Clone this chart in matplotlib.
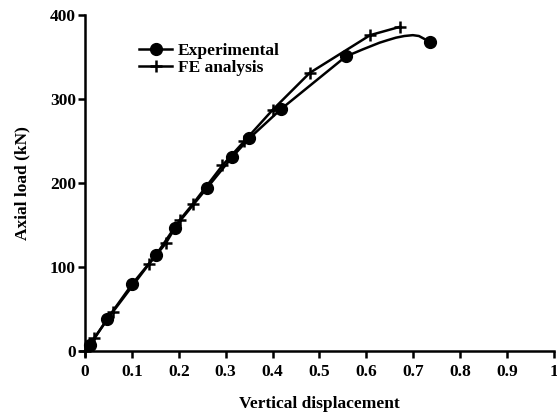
import numpy as np
import matplotlib
matplotlib.use("Agg")
import matplotlib.pyplot as plt

# Experimental data (markers)
exp_x = [0.011, 0.047, 0.101, 0.151, 0.191, 0.260, 0.314, 0.350, 0.418, 0.557, 0.735]
exp_y = [7, 38, 80, 114, 147, 194, 231, 253, 288, 351, 368]
# Experimental curve, extra points read along the smooth end of the line
exp_tail_x = [0.575, 0.592, 0.610, 0.628, 0.645, 0.663, 0.681, 0.699, 0.712, 0.722]
exp_tail_y = [355, 359, 363, 367, 370, 373, 375, 376, 375, 372]

# FE analysis data
fe_x = [0.0, 0.019, 0.060, 0.137, 0.172, 0.202, 0.230, 0.293, 0.340, 0.400, 0.479, 0.608, 0.672]
fe_y = [0, 15, 47, 104, 128, 156, 175, 221, 250, 287, 331, 376, 386]

x_ticks = [0, 0.1, 0.2, 0.3, 0.4, 0.5, 0.6, 0.7, 0.8, 0.9, 1]
x_tick_labels = ["0", "0.1", "0.2", "0.3", "0.4", "0.5", "0.6", "0.7", "0.8", "0.9", "1"]
y_ticks = [0, 100, 200, 300, 400]

plt.rcParams['font.family'] = ['Liberation Serif', 'DejaVu Serif']
plt.rcParams['font.weight'] = 'bold'

fig = plt.figure(figsize=(5.57, 4.12), dpi=100)
ax = fig.add_axes([0.1526, 0.148, 0.8420, 0.8156])

line_x = np.concatenate([exp_x[:-1], exp_tail_x, exp_x[-1:]])
line_y = np.concatenate([exp_y[:-1], exp_tail_y, exp_y[-1:]])
ax.plot(line_x, line_y, color='black', lw=1.8, clip_on=False,
        solid_capstyle='round', solid_joinstyle='round')
ax.plot(exp_x, exp_y, 'o', color='black', ms=8.5, clip_on=False)
ax.plot(fe_x, fe_y, '-', marker='+', color='black', lw=1.8, ms=8, mew=1.8, clip_on=False)

h1, = ax.plot([], [], '-o', color='black', lw=1.8, ms=8.5, label='Experimental')
h2, = ax.plot([], [], '-+', color='black', lw=1.8, ms=8, mew=1.8, label='FE analysis')
ax.legend(handles=[h1, h2], loc='upper left', bbox_to_anchor=(0.09, 0.953),
          frameon=False, fontsize=12.5, handlelength=1.9, handletextpad=0.3,
          labelspacing=0.05, borderpad=0.2)

ax.set_xlim(0, 1)
ax.set_ylim(0, 400)
ax.set_xticks(x_ticks)
ax.set_xticklabels(x_tick_labels)
ax.set_yticks(y_ticks)
for s in ['top', 'right']:
    ax.spines[s].set_visible(False)
for s in ['left', 'bottom']:
    ax.spines[s].set_linewidth(1.8)
ax.tick_params(direction='out', length=5, width=1.8, labelsize=12.5)
ax.tick_params(axis='x', pad=4)
ax.tick_params(axis='y', pad=1.5)
ax.set_xlabel('Vertical displacement', fontsize=12.5, fontweight='bold', labelpad=12)
ax.set_ylabel('Axial load (kN)', fontsize=12.5, fontweight='bold', labelpad=14)

fig.savefig('out.png', dpi=100)
